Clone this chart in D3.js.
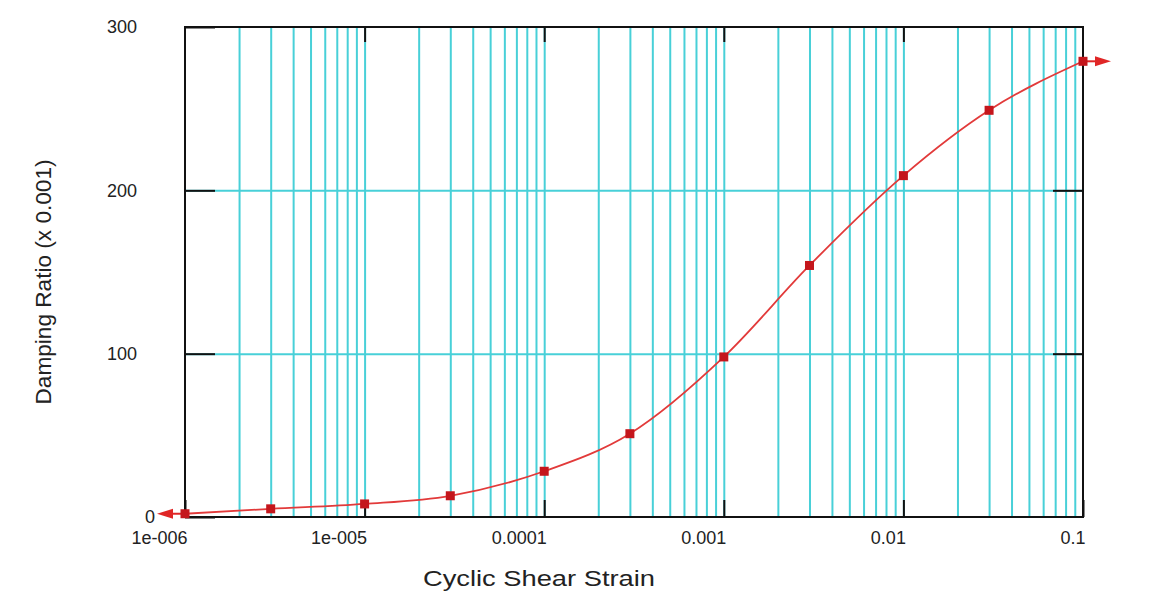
<!DOCTYPE html>
<html>
<head>
<meta charset="utf-8">
<script src="https://cdn.jsdelivr.net/npm/d3@7/dist/d3.min.js"></script>
<style>
  html, body { margin: 0; padding: 0; background: #fff; }
  svg { display: block; }
  text { font-family: "Liberation Sans", Arial, sans-serif; fill: #222; }
</style>
</head>
<body>
<svg id="chart" width="1176" height="608"></svg>
<script>
// Damping curve: cyclic shear strain vs damping ratio (x 0.001)
const strain  = [1e-6, 3e-6, 1e-5, 3e-5, 1e-4, 3e-4, 1e-3, 3e-3, 1e-2, 3e-2, 1e-1];
const damping = [2, 5, 8, 13, 28, 51, 98, 154, 209, 249, 279];

const xTickValues = [1e-6, 1e-5, 1e-4, 1e-3, 1e-2, 1e-1];
const xTickLabels = ["1e-006", "1e-005", "0.0001", "0.001", "0.01", "0.1"];
const yTickValues = [0, 100, 200, 300];
const yTickLabels = ["0", "100", "200", "300"];
const xTitle = "Cyclic Shear Strain";
const yTitle = "Damping Ratio (x 0.001)";

const plot = { left: 185, right: 1083, top: 27, bottom: 517 };
const W = plot.right - plot.left, H = plot.bottom - plot.top;

const svg = d3.select("#chart");
const x = d3.scaleLog().domain([1e-6, 1e-1]).range([plot.left, plot.right]);
const y = d3.scaleLinear().domain([0, 300]).range([plot.bottom, plot.top]);

const gridColor = "#48d0d8";

// minor + decade vertical grid lines (2..9 within every decade)
const vGrid = [];
for (let e = -6; e <= -2; e++) {
  for (let k = 1; k <= 9; k++) {
    const v = k * Math.pow(10, e);
    if (v > 1e-6 && v < 1e-1) vGrid.push(v);
  }
}
const gv = svg.append("g")
  .attr("transform", `translate(0,${plot.bottom})`)
  .call(d3.axisBottom(x).tickValues(vGrid).tickSize(-H).tickFormat(""));
gv.select(".domain").remove();
gv.selectAll("line").attr("stroke", gridColor).attr("stroke-width", 2);

// horizontal grid lines
const gh = svg.append("g")
  .attr("transform", `translate(${plot.left},0)`)
  .call(d3.axisLeft(y).tickValues([100, 200]).tickSize(-W).tickFormat(""));
gh.select(".domain").remove();
gh.selectAll("line").attr("stroke", gridColor).attr("stroke-width", 2);

// frame
svg.append("rect")
  .attr("x", plot.left).attr("y", plot.top)
  .attr("width", W).attr("height", H)
  .attr("fill", "none").attr("stroke", "#111").attr("stroke-width", 2);

// bottom axis: inward decade ticks, labels right-aligned to the tick
const ax = svg.append("g")
  .attr("transform", `translate(0,${plot.bottom})`)
  .call(d3.axisBottom(x).tickValues(xTickValues).tickSize(-17).tickPadding(0)
    .tickFormat((d, i) => xTickLabels[i]));
ax.select(".domain").remove();
ax.selectAll("line").attr("stroke", "#111").attr("stroke-width", 2);
ax.selectAll("text")
  .attr("text-anchor", "end").attr("dx", 2).attr("y", 27).attr("dy", 0)
  .style("font-size", "18px").attr("fill", "#222");

// top axis ticks
const axTop = svg.append("g")
  .attr("transform", `translate(0,${plot.top})`)
  .call(d3.axisTop(x).tickValues(xTickValues.slice(1, -1)).tickSize(-15).tickFormat(""));
axTop.select(".domain").remove();
axTop.selectAll("line").attr("stroke", "#111").attr("stroke-width", 2);

// left axis
const ay = svg.append("g")
  .attr("transform", `translate(${plot.left},0)`)
  .call(d3.axisLeft(y).tickValues(yTickValues).tickSize(-30).tickPadding(48)
    .tickFormat((d, i) => yTickLabels[i]));
ay.select(".domain").remove();
ay.selectAll("line").attr("stroke", "#111").attr("stroke-width", 2);
ay.selectAll("text").style("font-size", "18px").attr("fill", "#222")
  .attr("x", d => d === 0 ? -30 : -48);

// right axis ticks
const ayR = svg.append("g")
  .attr("transform", `translate(${plot.right},0)`)
  .call(d3.axisRight(y).tickValues([100, 200]).tickSize(-30).tickFormat(""));
ayR.select(".domain").remove();
ayR.selectAll("line").attr("stroke", "#111").attr("stroke-width", 2);

// data
const pts = strain.map((s, i) => ({ s, v: damping[i] }));
const line = d3.line().x(d => x(d.s)).y(d => y(d.v)).curve(d3.curveMonotoneX);

svg.append("path")
  .datum(pts)
  .attr("d", line)
  .attr("fill", "none")
  .attr("stroke", "#e23a3a")
  .attr("stroke-width", 1.8);

// end arrows (curve continues beyond the plotted range)
const first = pts[0], last = pts[pts.length - 1];
function arrow(px, py, dir) {
  const len = 28, head = 16, hw = 5;
  const tip = px + dir * len;
  svg.append("line")
    .attr("x1", px).attr("y1", py).attr("x2", tip - dir * head + dir * 2).attr("y2", py)
    .attr("stroke", "#e02626").attr("stroke-width", 2);
  svg.append("path")
    .attr("d", `M${tip},${py} L${tip - dir * head},${py - hw} L${tip - dir * head},${py + hw} Z`)
    .attr("fill", "#e02626");
}
arrow(x(first.s), y(first.v), -1);
arrow(x(last.s), y(last.v), 1);

// markers
svg.append("g").selectAll("rect")
  .data(pts)
  .join("rect")
  .attr("x", d => x(d.s) - 4.5)
  .attr("y", d => y(d.v) - 4.5)
  .attr("width", 9).attr("height", 9)
  .attr("fill", "#c4161c");

// axis titles
svg.append("text")
  .attr("x", 539).attr("y", 586)
  .attr("text-anchor", "middle")
  .attr("textLength", 232).attr("lengthAdjust", "spacingAndGlyphs")
  .style("font-size", "22px")
  .text(xTitle);

svg.append("text")
  .attr("transform", `translate(51,282) rotate(-90)`)
  .attr("text-anchor", "middle")
  .attr("textLength", 245).attr("lengthAdjust", "spacingAndGlyphs")
  .style("font-size", "22px")
  .text(yTitle);
</script>
</body>
</html>
